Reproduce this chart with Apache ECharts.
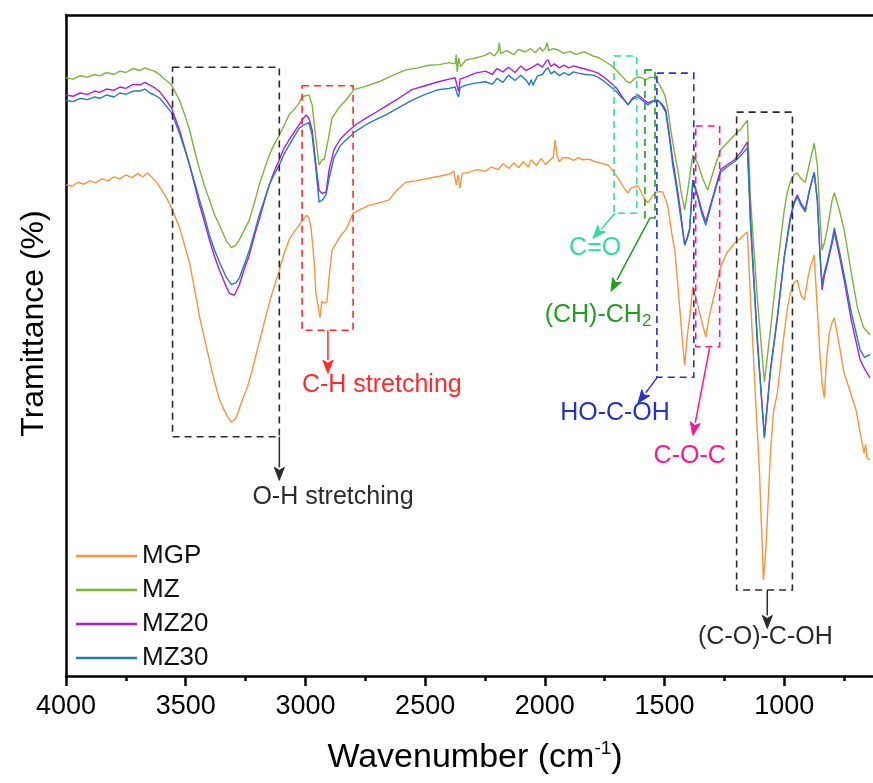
<!DOCTYPE html>
<html>
<head>
<meta charset="utf-8">
<script src="https://cdn.jsdelivr.net/npm/echarts@6/dist/echarts.min.js"></script>
<style>
  html, body { margin: 0; padding: 0; background: #fff; overflow: hidden; }
  /* the frame runs on past the right edge of the window, down to 500 cm-1 */
  #chart { width: 907px; height: 783px; }
</style>
</head>
<body>
<div id="chart"></div>
<script>
// FTIR spectra: [wavenumber (cm-1), transmittance (%)]
const seriesNames = ['MGP', 'MZ', 'MZ20', 'MZ30'];
const xTicks = [4000, 3500, 3000, 2500, 2000, 1500, 1000];

const mgp = [[4000,74.3],[3975,74.1],[3950,74.7],[3925,74.4],[3900,74.9],[3875,74.6],[3850,75.2],[3825,74.9],[3800,75.5],[3775,75.2],[3750,75.8],[3725,75.4],[3700,76.0],[3680,75.5],[3660,76.1],[3640,75.4],[3620,74.6],[3600,73.5],[3575,72.0],[3550,70.0],[3526,67.9],[3505,65.2],[3484,62.5],[3463,58.5],[3442,54.3],[3420,50.8],[3401,47.8],[3380,44.6],[3359,41.8],[3330,39.5],[3309,38.4],[3290,39.0],[3263,41.8],[3240,44.0],[3222,46.3],[3200,49.5],[3180,52.3],[3160,55.2],[3139,57.9],[3109,61.4],[3090,63.8],[3068,66.0],[3045,67.3],[3026,68.2],[3005,69.3],[2993,69.7],[2985,69.2],[2977,67.9],[2964,62.9],[2956,57.9],[2939,54.2],[2931,56.7],[2922,56.4],[2910,56.6],[2901,60.4],[2889,64.4],[2868,65.7],[2850,66.8],[2831,67.5],[2801,70.0],[2770,70.6],[2735,71.2],[2700,71.5],[2652,72.0],[2620,73.4],[2581,74.7],[2540,74.9],[2485,75.3],[2440,75.6],[2400,75.9],[2380,76.4],[2370,74.3],[2362,75.8],[2355,73.8],[2345,76.0],[2320,76.2],[2280,76.6],[2250,76.3],[2223,77.0],[2195,76.6],[2175,77.5],[2150,76.8],[2130,77.6],[2110,76.9],[2090,77.8],[2070,77.0],[2057,78.1],[2035,77.2],[2015,78.3],[1998,77.4],[1980,78.0],[1965,78.5],[1957,81.1],[1950,78.9],[1940,77.8],[1925,78.4],[1903,78.4],[1880,78.0],[1861,78.4],[1840,78.1],[1815,78.2],[1790,77.8],[1765,77.6],[1736,77.3],[1724,76.8],[1700,75.6],[1682,74.6],[1665,73.6],[1653,73.1],[1640,73.8],[1625,74.0],[1611,74.2],[1595,73.0],[1585,72.3],[1570,71.6],[1553,72.5],[1536,73.2],[1520,73.3],[1507,73.2],[1495,72.0],[1486,71.0],[1470,67.0],[1457,64.4],[1437,55.8],[1426,51.0],[1416,47.0],[1405,51.5],[1395,54.3],[1382,58.9],[1370,57.3],[1349,54.3],[1328,51.3],[1310,55.0],[1291,57.9],[1266,61.9],[1240,64.0],[1208,65.5],[1180,66.3],[1154,67.2],[1141,56.9],[1120,42.0],[1104,31.2],[1091,18.6],[1087,14.5],[1079,18.0],[1071,23.6],[1058,33.7],[1045,40.0],[1029,42.8],[1005,50.5],[988,55.4],[975,57.9],[960,59.4],[946,59.9],[930,57.6],[916,56.9],[900,60.5],[891,61.9],[875,63.7],[862,55.4],[850,48.0],[842,44.3],[833,42.1],[822,48.5],[812,51.9],[800,53.5],[791,54.2],[770,50.0],[750,45.8],[720,42.5],[700,40.2],[683,36.8],[667,33.7],[660,35.0],[655,33.0],[642,32.7]];

const mz = [[4000,90.5],[3970,90.3],[3942,90.8],[3910,90.6],[3880,91.0],[3859,90.8],[3830,91.3],[3800,91.0],[3775,91.5],[3750,91.3],[3720,91.9],[3692,91.6],[3670,92.0],[3650,91.7],[3630,91.5],[3609,91.0],[3585,90.2],[3559,89.4],[3526,87.1],[3505,85.0],[3484,82.6],[3463,79.5],[3442,76.6],[3420,74.0],[3401,72.0],[3380,69.8],[3359,68.2],[3330,65.8],[3309,64.8],[3290,65.2],[3276,66.0],[3255,67.5],[3234,69.0],[3210,72.0],[3193,74.3],[3170,76.8],[3151,78.8],[3130,80.5],[3109,81.8],[3090,83.2],[3068,84.9],[3045,85.8],[3026,86.7],[3014,87.6],[2998,87.8],[2985,87.9],[2972,86.4],[2956,81.1],[2943,77.3],[2931,78.1],[2922,78.1],[2905,81.1],[2889,84.4],[2860,86.0],[2831,87.1],[2797,88.7],[2750,89.2],[2693,89.9],[2640,90.8],[2581,91.7],[2530,92.0],[2485,92.4],[2440,92.5],[2400,92.8],[2375,92.6],[2370,94.0],[2366,91.4],[2360,93.5],[2352,92.2],[2330,93.2],[2300,93.4],[2277,93.6],[2250,93.9],[2230,94.3],[2210,93.8],[2194,94.7],[2190,95.8],[2185,94.2],[2160,94.6],[2130,94.0],[2110,94.8],[2082,94.4],[2060,94.9],[2040,94.3],[2020,95.1],[2010,94.5],[1998,95.0],[1990,95.8],[1984,94.6],[1965,94.9],[1944,94.7],[1920,94.2],[1895,94.5],[1870,94.0],[1850,94.3],[1832,94.4],[1800,93.8],[1778,93.6],[1750,93.0],[1724,92.4],[1700,91.6],[1682,90.9],[1660,90.0],[1644,89.7],[1625,90.4],[1611,90.6],[1595,90.5],[1578,90.2],[1560,90.6],[1540,90.5],[1520,89.4],[1499,87.9],[1485,85.5],[1474,82.6],[1460,79.5],[1445,76.6],[1430,73.0],[1416,70.5],[1403,73.5],[1391,76.6],[1382,78.8],[1362,77.6],[1340,75.2],[1320,73.5],[1295,76.5],[1266,79.6],[1240,80.6],[1208,81.8],[1180,82.8],[1154,84.1],[1141,72.0],[1112,56.9],[1083,44.5],[1058,52.3],[1029,61.9],[1000,70.5],[988,73.1],[975,74.7],[960,75.8],[946,76.1],[930,75.2],[912,74.7],[895,77.5],[875,80.6],[862,77.3],[850,69.0],[842,64.4],[833,65.5],[821,67.5],[800,72.0],[791,73.1],[770,70.5],[750,67.5],[720,61.0],[695,55.8],[670,52.8],[642,51.6]];

const mz20 = [[4000,87.9],[3970,87.7],[3942,88.2],[3910,88.0],[3880,88.5],[3859,88.3],[3830,88.8],[3800,88.6],[3775,89.1],[3750,88.9],[3720,89.5],[3692,89.4],[3670,89.8],[3650,89.4],[3630,89.0],[3609,88.4],[3585,87.3],[3559,85.9],[3526,82.6],[3505,80.0],[3484,77.3],[3463,74.3],[3442,71.3],[3420,68.5],[3401,66.0],[3380,63.5],[3359,61.4],[3330,58.8],[3317,57.9],[3297,57.6],[3276,59.2],[3255,61.6],[3234,63.7],[3210,67.0],[3193,69.0],[3170,72.0],[3151,74.3],[3130,76.4],[3109,78.1],[3090,79.8],[3068,81.1],[3045,82.4],[3026,83.4],[3010,84.3],[2997,84.9],[2985,84.3],[2972,82.6],[2956,77.3],[2943,73.5],[2930,73.0],[2914,73.2],[2901,76.6],[2881,79.6],[2855,81.2],[2831,82.1],[2790,83.4],[2747,84.4],[2700,85.4],[2664,86.2],[2610,87.4],[2556,88.7],[2500,89.3],[2444,89.9],[2400,90.3],[2375,90.5],[2366,89.2],[2360,88.4],[2354,90.3],[2330,90.6],[2290,91.2],[2248,91.5],[2220,91.0],[2200,91.9],[2175,91.4],[2152,92.1],[2125,91.3],[2100,92.3],[2080,91.6],[2057,92.0],[2030,92.6],[2010,92.1],[1995,93.0],[1986,93.2],[1975,92.2],[1960,92.6],[1940,92.0],[1920,92.4],[1900,92.0],[1880,92.3],[1861,92.1],[1830,91.8],[1800,91.5],[1778,91.2],[1750,90.5],[1724,89.7],[1700,88.9],[1682,87.9],[1665,87.0],[1653,86.4],[1635,87.4],[1611,87.9],[1590,87.3],[1570,86.7],[1550,87.0],[1528,87.1],[1510,86.5],[1495,85.6],[1480,82.0],[1466,78.1],[1450,74.5],[1437,71.3],[1425,67.8],[1416,65.2],[1405,66.2],[1395,67.5],[1382,75.0],[1362,72.8],[1345,70.5],[1328,68.7],[1300,72.3],[1266,76.6],[1240,77.3],[1208,78.1],[1180,79.3],[1154,80.8],[1141,69.0],[1112,50.8],[1083,36.2],[1058,46.3],[1029,54.3],[1000,63.5],[975,69.4],[960,71.6],[946,72.8],[930,71.5],[912,70.5],[895,73.5],[875,76.2],[862,72.0],[850,63.0],[842,58.4],[833,60.5],[821,62.2],[800,65.5],[791,67.2],[770,63.6],[750,59.9],[720,53.8],[683,47.8],[665,46.5],[642,45.1]];

const mz30 = [[4000,87.1],[3970,86.9],[3942,87.4],[3910,87.2],[3880,87.6],[3859,87.4],[3830,87.9],[3800,87.6],[3775,88.2],[3750,88.0],[3720,88.5],[3692,88.5],[3670,88.8],[3650,88.2],[3630,87.9],[3609,87.4],[3585,86.4],[3559,85.2],[3526,82.1],[3505,79.8],[3484,77.3],[3463,74.7],[3442,72.0],[3420,69.3],[3401,66.7],[3380,64.5],[3359,62.6],[3330,60.3],[3309,59.2],[3290,59.5],[3276,60.2],[3255,62.3],[3234,64.4],[3210,67.5],[3193,69.7],[3170,72.2],[3151,74.3],[3130,75.9],[3109,77.3],[3090,78.9],[3068,80.3],[3045,81.7],[3026,82.9],[3005,83.4],[2985,83.7],[2972,81.8],[2956,76.6],[2943,71.7],[2930,72.0],[2914,72.8],[2901,75.3],[2881,78.4],[2855,80.2],[2831,81.1],[2790,82.4],[2747,83.4],[2700,84.3],[2664,84.9],[2610,86.0],[2556,87.1],[2500,88.0],[2444,88.7],[2400,88.9],[2375,89.1],[2366,88.0],[2360,87.6],[2354,89.0],[2330,89.4],[2290,89.7],[2248,89.9],[2220,89.5],[2200,90.4],[2175,89.8],[2152,90.9],[2125,90.1],[2100,90.9],[2075,90.0],[2065,89.4],[2057,90.2],[2050,89.4],[2030,90.8],[2010,91.0],[1995,91.8],[1986,92.0],[1975,91.1],[1960,91.5],[1940,90.8],[1920,91.3],[1900,90.9],[1880,91.4],[1861,91.2],[1830,91.0],[1800,90.9],[1778,90.6],[1750,89.9],[1724,89.1],[1700,88.4],[1682,87.6],[1665,87.0],[1653,86.4],[1635,87.2],[1611,87.6],[1590,87.0],[1570,86.4],[1550,86.9],[1528,87.1],[1510,86.3],[1495,85.3],[1480,81.5],[1466,77.3],[1450,73.8],[1437,70.5],[1425,67.5],[1416,65.2],[1405,66.4],[1395,67.8],[1382,75.0],[1362,72.5],[1345,70.0],[1328,68.2],[1300,72.0],[1266,76.2],[1240,77.0],[1208,77.8],[1180,78.8],[1154,79.9],[1141,68.2],[1112,50.1],[1083,36.0],[1058,46.0],[1029,54.1],[1000,63.3],[975,69.0],[960,71.3],[946,72.5],[930,71.2],[912,70.2],[895,73.4],[875,76.2],[862,72.0],[850,63.5],[842,59.2],[833,61.0],[821,62.6],[800,66.0],[791,67.8],[770,64.3],[750,60.7],[720,55.0],[683,49.3],[665,48.2],[642,48.6]];

// Band assignments: dashed box [x1, x2, y1, y2], arrow from -> to, label anchor (all in data units)
const bandNames = ['O-H stretching', 'C-H stretching', 'C=O', '(CH)-CH{sub|2}', 'HO-C-OH', 'C-O-C', '(C-O)-C-OH'];
const bandBoxes = [[3555, 3109, 92.1, 36.2], [3014, 2801, 89.3, 52.3], [1711, 1616, 93.8, 70.0], [1582, 1540, 91.7, 69.3], [1532, 1378, 91.2, 45.2], [1370, 1270, 83.2, 49.8], [1199, 966, 85.3, 13.0]];
const bandArrows = [[[3109, 36.2], [3109, 29.6]], [[2906, 52.3], [2906, 45.8]], [[1707, 70.0], [1799, 66.2]], [[1561, 69.3], [1724, 58.2]], [[1532, 45.1], [1611, 41.3]], [[1312, 49.6], [1382, 36.4]], [[1071, 13.0], [1071, 7.2]]];
const bandLabels = [[2885, 27.1], [2681, 44.0], [1790, 64.8], [1778, 54.6], [1707, 39.8], [1395, 33.3], [1079, 5.9]];
const bandColors = ['#2b2b2b', '#ff2a2a', '#2fdca4', '#1f9e1f', '#2233cc', '#ff1493', '#2b2b2b'];

const lineColors = ['#f6953d', '#7cb43a', '#a91ee0', '#237cbd'];
const FONT = 'Liberation Sans, Arial, sans-serif';

const chart = echarts.init(document.getElementById('chart'), null, { renderer: 'canvas' });

const axisBlack = { color: '#000', width: 2.5 };

const option = {
  animation: false,
  backgroundColor: '#fff',
  grid: { left: 66, top: 15, right: 0, bottom: 107 },
  legend: {
    data: seriesNames,
    orient: 'vertical',
    left: 71,
    top: 538,
    icon: 'rect',
    itemWidth: 61,
    itemHeight: 2.5,
    itemGap: 8,
    textStyle: { fontFamily: FONT, fontSize: 26, color: '#111', lineHeight: 26 }
  },
  xAxis: [{
    type: 'value',
    inverse: true,
    min: 500,
    max: 4000,
    interval: 500,
    axisLine: { lineStyle: axisBlack },
    axisTick: { length: 10, lineStyle: axisBlack },
    minorTick: { show: true, splitNumber: 2, length: 5, lineStyle: axisBlack },
    splitLine: { show: false },
    axisLabel: {
      fontFamily: FONT, fontSize: 27, color: '#000', margin: 17,
      formatter: v => (xTicks.indexOf(v) >= 0 ? String(v) : '')
    },
    name: 'Wavenumber (cm{sup|-1})',
    nameLocation: 'middle',
    nameGap: 63,
    nameTextStyle: {
      fontFamily: FONT, fontSize: 34, color: '#000', lineHeight: 38,
      padding: [0, 20, 0, 0],
      rich: { sup: { fontFamily: FONT, fontSize: 19, color: '#000', lineHeight: 38, verticalAlign: 'top', padding: [0, 0, 14, 0] } }
    }
  }, {
    type: 'value',
    position: 'top',
    inverse: true,
    min: 500,
    max: 4000,
    axisLine: { lineStyle: axisBlack },
    axisTick: { show: false },
    axisLabel: { show: false },
    splitLine: { show: false }
  }],
  yAxis: {
    type: 'value',
    min: 0,
    max: 100,
    axisLine: { show: true, lineStyle: axisBlack },
    axisTick: { show: false },
    axisLabel: { show: false },
    splitLine: { show: false },
    name: 'Tramittance (%)',
    nameLocation: 'middle',
    nameGap: 16,
    nameTextStyle: { fontFamily: FONT, fontSize: 32, color: '#000', padding: [0, 0, 0, 44] }
  },
  series: [mgp, mz, mz20, mz30].map((d, i) => ({
    name: seriesNames[i],
    type: 'line',
    data: d,
    showSymbol: false,
    symbol: 'none',
    color: lineColors[i],
    lineStyle: { width: 1.4, color: lineColors[i] },
    z: 2 + i
  }))
};

chart.setOption(option);

// Draw the band boxes, arrows and labels in pixel space from their data coordinates
function toPx(p) { return chart.convertToPixel({ gridIndex: 0 }, p); }

const graphics = [];
bandBoxes.forEach((b, i) => {
  const a = toPx([b[0], b[2]]);
  const c = toPx([b[1], b[3]]);
  const color = bandColors[i];
  graphics.push({
    type: 'rect',
    shape: { x: Math.min(a[0], c[0]), y: Math.min(a[1], c[1]), width: Math.abs(c[0] - a[0]), height: Math.abs(c[1] - a[1]) },
    style: { fill: 'none', stroke: color, lineWidth: 1.6, lineDash: [7, 5] },
    z: 20
  });
  const p0 = toPx(bandArrows[i][0]);
  const p1 = toPx(bandArrows[i][1]);
  const dx = p1[0] - p0[0], dy = p1[1] - p0[1];
  const len = Math.sqrt(dx * dx + dy * dy);
  const ux = dx / len, uy = dy / len;
  const headL = 13, headW = 5;
  const bx = p1[0] - ux * headL, by = p1[1] - uy * headL;
  graphics.push({
    type: 'polyline',
    shape: { points: [p0, [bx, by]] },
    style: { stroke: color, lineWidth: 1.5 },
    z: 21
  });
  graphics.push({
    type: 'polygon',
    shape: { points: [p1, [bx - uy * headW, by + ux * headW], [bx + ux * 3, by + uy * 3], [bx + uy * headW, by - ux * headW]] },
    style: { fill: color, stroke: color, lineWidth: 1 },
    z: 21
  });
  const t = toPx(bandLabels[i]);
  graphics.push({
    type: 'text',
    x: t[0],
    y: t[1],
    style: {
      text: bandNames[i],
      fill: color,
      font: '25px ' + FONT,
      fontSize: 25,
      fontFamily: FONT,
      align: 'center',
      verticalAlign: 'middle',
      lineHeight: 29,
      rich: { sub: { fontSize: 17, fontFamily: FONT, fill: color, lineHeight: 29, verticalAlign: 'bottom', padding: [12, 0, 0, 0] } }
    },
    z: 22
  });
});

chart.setOption({ graphic: graphics });
</script>
</body>
</html>
